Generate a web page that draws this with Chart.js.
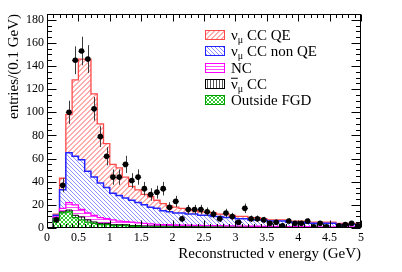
<!DOCTYPE html>
<html><head><meta charset="utf-8">
<script src="https://cdn.jsdelivr.net/npm/chart.js@4.4.1/dist/chart.umd.min.js"></script>
<style>html,body{margin:0;padding:0;background:#fff;}canvas{display:block;}</style>
</head><body>
<canvas id="c" width="402" height="272"></canvas>
<script>
const binEdges = [0,0.1,0.2,0.3,0.4,0.5,0.6,0.7,0.8,0.9,1.0,1.1,1.2,1.3,1.4,1.5,1.6,1.7,1.8,1.9,2.0,2.1,2.2,2.3,2.4,2.5,2.6,2.7,2.8,2.9,3.0,3.1,3.2,3.3,3.4,3.5,3.6,3.7,3.8,3.9,4.0,4.1,4.2,4.3,4.4,4.5,4.6,4.7,4.8,4.9,5.0];
const dataCounts = [0,7,37,100,145,153,146,103,79,62,44,44,55,41,44,34,29,31,34,18,23,8,16,16,16,14,12,8,13,10,5,17,8,8,7,4,5,2,6,4,4,6,1,4,1,0,2,3,4,2];
const outsideFGD = [0,8,13,14,9,7,5,4,3,3,2,2,2,1.5,1.5,1,1,1,1,1,0.8,0.8,0.6,0.6,0.6,0.5,0.5,0.5,0.4,0.4,0.4,0.4,0.3,0.3,0.3,0.3,0.3,0.3,0.2,0.2,0.2,0.2,0.2,0.2,0.2,0.2,0.2,0.2,0.2,0.2];
const antiNumuCC = [0,0.5,1,1.5,2,2.5,2,1.2,1,1,0.8,0.8,0.8,0.7,0.7,0.6,0.6,0.6,0.5,0.5,0.5,0.5,0.5,0.5,0.4,0.4,0.4,0.4,0.4,0.4,0.4,0.3,0.3,0.3,0.3,0.3,0.3,0.3,0.3,0.3,0.2,0.2,0.2,0.2,0.2,0.2,0.2,0.2,0.2,0.2];
const ncEvents   = [0,1,3,6.5,9,6.5,6,5.8,5,4,4.2,3.2,2.7,2.8,2.3,2.4,1.9,1.6,1.5,1.3,1.3,1.2,1.3,1.2,1.2,1.2,1.1,1.1,1.1,1.0,0.9,0.9,0.9,0.9,0.8,0.8,0.7,0.7,0.7,0.7,0.7,0.7,0.6,0.6,0.6,0.6,0.6,0.5,0.5,0.5];
const numuCCnonQE = [0,1.5,16,43,42,43,36,33,30,27,23,22,20.5,19,17.5,16,14.5,13.8,12,11.2,10.4,10.5,9.6,9.7,8.8,8.9,8,8,7.1,7.2,6.3,6.4,5.5,5.5,5.6,4.6,4.7,4.7,3.8,3.8,3.9,2.9,3,3,3,3,2,2.1,2.1,2.1];
const numuCCQE   = [0,1,10,33,66,87,97,72,51,38,25,24,18,12,11,9,9,7,6,5,5,4,4,3,3,3,3,2,3,2,2,2,2,2,1,1,1,1,1,1,1,1,1,1,1,1,1,1,1,1];

const yMax = 185, yMajorStep = 20, yMinorStep = 5, xMajorStep = 0.5;
const xTitle = 'Reconstructed ν energy (GeV)';
const yTitle = 'entries/(0.1 GeV)';
const legendLabels = [
  {main:'ν', sub:'μ', rest:' CC QE', bar:false},
  {main:'ν', sub:'μ', rest:' CC non QE', bar:false},
  {main:'NC', sub:'', rest:'', bar:false},
  {main:'ν', sub:'μ', rest:' CC', bar:true},
  {main:'Outside FGD', sub:'', rest:'', bar:false}
];
const FONT = '"Liberation Serif", "Times New Roman", serif';

function makePattern(kind, color, size, thick) {
  const c = document.createElement('canvas');
  c.width = size; c.height = size;
  const g = c.getContext('2d');
  g.fillStyle = '#fff'; g.fillRect(0, 0, size, size);
  g.fillStyle = color;
  const t = thick || 1;
  for (let i = 0; i < size; i++) {
    for (let d = 0; d < t; d++) {
      if (kind === 'fwd') g.fillRect((i + d) % size, size - 1 - i, 1, 1);
      else if (kind === 'back') g.fillRect((i + d) % size, i, 1, 1);
    }
    if (kind === 'horiz') g.fillRect(i, 0, 1, 1);
    else if (kind === 'vert') g.fillRect(0, i, 1, 1);
    else if (kind === 'cross') { g.fillRect(i, i, 1, 1); g.fillRect(i, size - 1 - i, 1, 1); }
  }
  return g.createPattern(c, 'repeat');
}

const components = [
  {label:'νμ CC QE', values:numuCCQE, line:'#ff4a4a', pat:makePattern('fwd','#ffacac',5,2), lw:1.3},
  {label:'νμ CC non QE', values:numuCCnonQE, line:'#2222ff', pat:makePattern('back','#8e8eff',4,1), lw:1.5},
  {label:'NC', values:ncEvents, line:'#ff00ff', pat:makePattern('horiz','#ff4dff',3), lw:1.3},
  {label:'anti-νμ CC', values:antiNumuCC, line:'#000000', pat:makePattern('vert','#555555',3), lw:1},
  {label:'Outside FGD', values:outsideFGD, line:'#00a000', pat:makePattern('cross','#33cc33',4), lw:1.3}
];
const cumulative = [];
{
  let running = new Array(dataCounts.length).fill(0);
  for (let k = components.length - 1; k >= 0; k--) {
    running = running.map((v, i) => v + components[k].values[i]);
    cumulative[k] = running.slice();
  }
}
function stepPoints(vals) {
  const pts = vals.map((v, i) => ({x: binEdges[i], y: v}));
  pts.push({x: binEdges[binEdges.length - 1], y: vals[vals.length - 1]});
  return pts;
}
const datasets = [];
components.forEach((c, k) => {
  datasets.push({
    label: c.label, data: stepPoints(cumulative[k]), stepped: true, fill: 'origin',
    backgroundColor: c.pat, borderColor: c.line, borderWidth: c.lw, pointRadius: 0,
    order: components.length - k
  });
});
datasets.push({
  label: 'Data', isData: true,
  data: dataCounts.map((n, i) => ({x: (binEdges[i] + binEdges[i + 1]) / 2, y: n > 0 ? n : null})),
  showLine: false, pointRadius: 2.8, pointBackgroundColor: '#000', pointBorderColor: '#000', pointBorderWidth: 0, order: 0
});
const errorBars = {
  id: 'errorBars',
  beforeDatasetDraw(chart, args) {
    const ds = chart.data.datasets[args.index];
    if (!ds.isData) return;
    const {ctx, scales: {x, y}, chartArea: a} = chart;
    ctx.save();
    ctx.beginPath(); ctx.rect(a.left, a.top, a.right - a.left, a.bottom - a.top); ctx.clip();
    ctx.strokeStyle = '#3a3a3a'; ctx.lineWidth = 1;
    ds.data.forEach((p, i) => {
      if (p.y == null) return;
      const e = Math.sqrt(p.y);
      const px = Math.round(x.getPixelForValue(p.x)) + 0.5;
      ctx.beginPath();
      ctx.moveTo(px, y.getPixelForValue(p.y + e));
      ctx.lineTo(px, y.getPixelForValue(Math.max(0, p.y - e)));
      const py = Math.round(y.getPixelForValue(p.y)) + 0.5;
      ctx.moveTo(x.getPixelForValue(binEdges[i]), py);
      ctx.lineTo(x.getPixelForValue(binEdges[i + 1]), py);
      ctx.stroke();
    });
    ctx.restore();
  }
};
const frameTicks = {
  id: 'frameTicks',
  afterDatasetsDraw(chart) {
    const {ctx, chartArea: a, scales: {x, y}} = chart;
    ctx.save();
    ctx.strokeStyle = '#000'; ctx.lineWidth = 1;
    const L = Math.round(a.left) + 0.5, R = Math.round(a.right) - 0.5;
    const T = Math.round(a.top) + 0.5, B = Math.round(a.bottom) - 0.5;
    ctx.strokeRect(L, T, R - L, B - T);
    ctx.beginPath();
    const majX = x.ticks.map(t => t.value);
    binEdges.forEach(v => {
      const px = Math.round(x.getPixelForValue(v)) + 0.5;
      const isMaj = majX.some(m => Math.abs(m - v) < 1e-6);
      const len = isMaj ? 7 : 3.5;
      ctx.moveTo(px, B); ctx.lineTo(px, B - len);
      ctx.moveTo(px, T); ctx.lineTo(px, T + len);
    });
    for (let v = 0; v <= yMax + 1e-6; v += yMinorStep) {
      const py = Math.round(y.getPixelForValue(v)) + 0.5;
      const isMaj = (v % yMajorStep) === 0;
      const len = isMaj ? 9 : 4.5;
      ctx.moveTo(L, py); ctx.lineTo(L + len, py);
      ctx.moveTo(R, py); ctx.lineTo(R - len, py);
    }
    ctx.stroke();
    ctx.restore();
  }
};
const rootLegend = {
  id: 'rootLegend',
  afterDraw(chart) {
    const ctx = chart.ctx;
    const boxL = 205, boxW = 20, boxH = 10, textX = 231, y0 = 35, dy = 16.25;
    ctx.save();
    components.forEach((c, k) => {
      const cy = y0 + k * dy;
      ctx.fillStyle = c.pat;
      ctx.fillRect(boxL, Math.round(cy - boxH / 2), boxW, boxH);
      ctx.strokeStyle = c.line; ctx.lineWidth = 1;
      ctx.strokeRect(boxL + 0.5, Math.round(cy - boxH / 2) + 0.5, boxW - 1, boxH - 1);
      const lab = legendLabels[k];
      const base = cy + 5;
      ctx.fillStyle = '#000'; ctx.textBaseline = 'alphabetic'; ctx.textAlign = 'left';
      ctx.font = '15px ' + FONT;
      let tx = textX;
      ctx.fillText(lab.main, tx, base);
      const mw = ctx.measureText(lab.main).width;
      if (lab.bar) { ctx.beginPath(); ctx.strokeStyle = '#000'; ctx.lineWidth = 1; ctx.moveTo(tx, base - 10.5); ctx.lineTo(tx + mw, base - 10.5); ctx.stroke(); }
      tx += mw;
      if (lab.sub) { ctx.font = '10px ' + FONT; ctx.fillText(lab.sub, tx, base + 3); tx += ctx.measureText(lab.sub).width; }
      if (lab.rest) { ctx.font = '15px ' + FONT; ctx.fillText(lab.rest, tx, base); }
    });
    ctx.restore();
  }
};
new Chart(document.getElementById('c').getContext('2d'), {
  type: 'line',
  data: {datasets},
  options: {
    responsive: false, animation: false, devicePixelRatio: 1,
    layout: {padding: {left: 0, right: 41, top: 14, bottom: 0}},
    elements: {line: {tension: 0}},
    plugins: {legend: {display: false}, tooltip: {enabled: false}},
    scales: {
      x: {
        type: 'linear', min: 0, max: 5,
        grid: {display: false, drawTicks: false}, border: {display: false},
        ticks: {stepSize: xMajorStep, includeBounds: false, padding: 3, color: '#000', maxRotation: 0, autoSkip: false,
                font: {family: FONT, size: 12}, callback: v => String(Math.round(v * 10) / 10)},
        title: {display: true, text: xTitle, align: 'end', color: '#000', font: {family: FONT, size: 15}, padding: {top: 0, bottom: 9}},
        afterFit(s) { s.height = 44; }
      },
      y: {
        type: 'linear', min: 0, max: yMax,
        grid: {display: false, drawTicks: false}, border: {display: false},
        ticks: {stepSize: yMajorStep, includeBounds: false, padding: 3, color: '#000', font: {family: FONT, size: 12}},
        title: {display: true, text: yTitle, align: 'end', color: '#000', font: {family: FONT, size: 15}, padding: {top: 5, bottom: 0}},
        afterFit(s) { s.width = 47; }
      }
    }
  },
  plugins: [errorBars, frameTicks, rootLegend]
});
</script>
</body></html>
